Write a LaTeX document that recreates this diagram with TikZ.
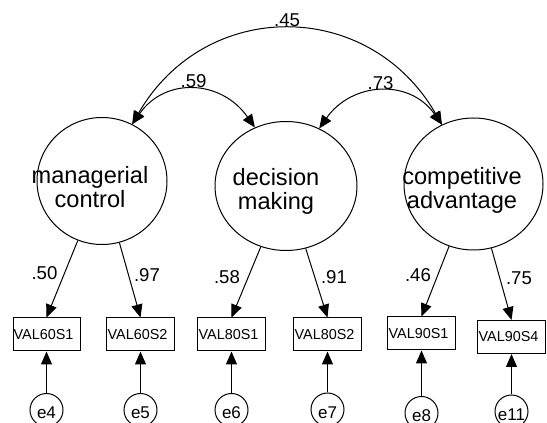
\documentclass[tikz,border=0pt]{standalone}
\usepackage{fontspec}
\setmainfont{Liberation Sans}
\usetikzlibrary{arrows.meta,shapes.geometric}

\begin{document}
\begin{tikzpicture}[x=0.5pt, y=0.5pt,
    latent/.style={draw, ellipse, line width=0.5pt, inner sep=0pt},
    lvtext/.style={align=center, inner sep=0pt, font=\fontsize{11.8}{12}\selectfont},
    observed/.style={draw, rectangle, line width=0.5pt, minimum width=34pt, minimum height=16.5pt, inner sep=0pt, font=\fontsize{7.2}{8}\selectfont},
    error/.style={draw, circle, line width=0.5pt, minimum size=16.5pt, inner sep=0pt, text height=9pt, text depth=0pt, font=\fontsize{8.5}{9}\selectfont},
    coef/.style={font=\fontsize{9.3}{10}\selectfont},
    loading/.style={line width=0.5pt, -{Triangle[length=6.5pt,width=5.5pt]}},
    cov/.style={line width=0.5pt, {Triangle[length=6.5pt,width=5.5pt]}-{Triangle[length=6.5pt,width=5.5pt]}}
]
    \useasboundingbox (0,0) rectangle (547,423);
    \clip (0,0) rectangle (547,423);

    % latent variables
    \node[latent, minimum width=65pt, minimum height=63.5pt] (mc) at (102,242) {};
    \node[latent, minimum width=71pt, minimum height=64.5pt] (dm) at (286,237) {};
    \node[latent, minimum width=69.5pt, minimum height=66pt] (ca) at (473.5,239) {};
    \node[lvtext] (mct) at (90,236) {managerial\\control};
    \node[lvtext] (dmt) at (276,231.5) {decision\\making};
    \node[lvtext] (cat) at (462,233) {competitive\\advantage};

    % observed variables
    \node[observed, minimum width=33.5pt] (v1) at (46.5,88.5) {VAL60S1\hspace*{3pt}};
    \node[observed] (v2) at (140.5,88.5) {VAL60S2\hspace*{3pt}};
    \node[observed] (v3) at (231.5,88.5) {VAL80S1\hspace*{3pt}};
    \node[observed] (v4) at (327.5,88.5) {VAL80S2\hspace*{3pt}};
    \node[observed] (v5) at (421.5,89.5) {VAL90S1\hspace*{3pt}};
    \node[observed] (v6) at (511.5,86) {VAL90S4\hspace*{3pt}};

    % error terms
    \node[error] (e4) at (46.5,13) {e4};
    \node[error] (e5) at (140.5,13) {e5};
    \node[error] (e6) at (231.5,13) {e6};
    \node[error] (e7) at (327.5,13.5) {e7};
    \node[error] (e8) at (421.5,10) {e8};
    \node[error] (e11) at (511.5,11.5) {e11};

    % loadings
    \draw[loading] (mc) -- (v1.north);
    \draw[loading] (mc) -- (v2.north);
    \draw[loading] (dm) -- (v3.north);
    \draw[loading] (dm) -- (v4.north);
    \draw[loading] (ca) -- (v5.north);
    \draw[loading] (ca) -- (v6.north);
    \node[coef] (l1) at (44.5,150) {.50};
    \node[coef] (l2) at (147,148) {.97};
    \node[coef] (l3) at (227,146) {.58};
    \node[coef] (l4) at (334,146) {.91};
    \node[coef] (l5) at (418,148) {.46};
    \node[coef] (l6) at (519,145) {.75};

    % errors into indicators
    \draw[loading] (e4) -- (v1.south);
    \draw[loading] (e5) -- (v2.south);
    \draw[loading] (e6) -- (v3.south);
    \draw[loading] (e7) -- (v4.south);
    \draw[loading] (e8) -- (v5.south);
    \draw[loading] (e11) -- (v6.south);

    % correlations
    \draw[cov] (mc.62) to[out=60, in=120, looseness=1.21]
        node[coef, midway, above, inner sep=1pt] (r45) {.45} (ca.118);
    \draw[cov] (mc.62) to[out=55, in=125, looseness=1.21]
        node[coef, midway, above, inner sep=1pt] (r59) {.59} (dm.118);
    \draw[cov] (dm.60) to[out=55, in=125, looseness=1.18]
        node[coef, midway, above, inner sep=1pt] (r73) {.73} (ca.118);
\end{tikzpicture}
\end{document}
